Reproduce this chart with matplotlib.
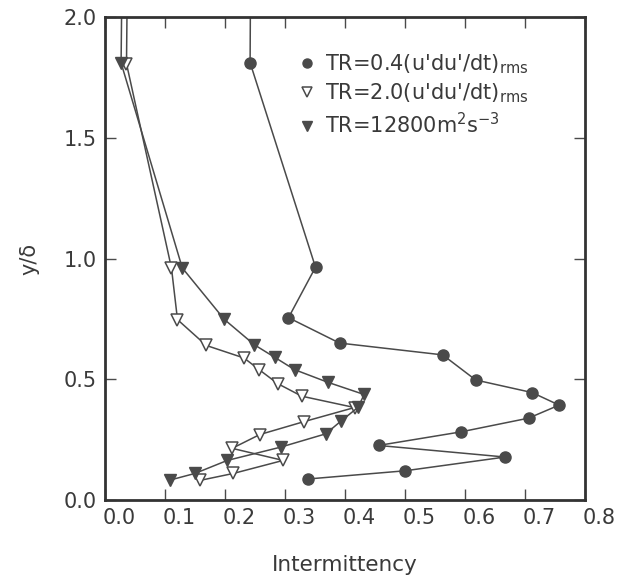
import matplotlib.pyplot as plt
import numpy as np
from matplotlib.lines import Line2D
from matplotlib.transforms import ScaledTranslation

# TR = 0.4 (u'du'/dt)_rms  (filled circles); first point above the frame continues the line upward
y_circ = [2.3, 1.811, 0.964, 0.755, 0.650, 0.601, 0.497, 0.445, 0.393, 0.339, 0.282, 0.226, 0.178, 0.121, 0.087]
x_circ = [0.243, 0.242, 0.351, 0.306, 0.391, 0.563, 0.618, 0.712, 0.757, 0.706, 0.593, 0.456, 0.667, 0.500, 0.338]

# TR = 2.0 (u'du'/dt)_rms  (open triangles)
y_open = [2.3, 1.807, 0.960, 0.747, 0.640, 0.588, 0.540, 0.482, 0.430, 0.383, 0.324, 0.271, 0.214, 0.164, 0.110, 0.081]
x_open = [0.038, 0.036, 0.111, 0.121, 0.169, 0.232, 0.257, 0.288, 0.328, 0.416, 0.331, 0.258, 0.212, 0.297, 0.214, 0.158]

# TR = 12800 m^2 s^-3  (filled triangles)
y_fill = [2.3, 1.810, 0.961, 0.748, 0.643, 0.591, 0.540, 0.488, 0.437, 0.384, 0.326, 0.274, 0.219, 0.164, 0.110, 0.083]
x_fill = [0.029, 0.027, 0.129, 0.199, 0.249, 0.283, 0.316, 0.371, 0.432, 0.422, 0.393, 0.368, 0.293, 0.204, 0.150, 0.109]

labels = ["TR=0.4(u'du'/dt)$_{\\rm rms}$",
          "TR=2.0(u'du'/dt)$_{\\rm rms}$",
          "TR=12800m$^{2}$s$^{-3}$"]

dark = '#4a4a4a'
txt = '#3a3a3a'

fig = plt.figure(figsize=(6.17, 5.79), dpi=100)
ax = fig.add_axes([0.170, 0.1364, 0.778, 0.8342])

ax.plot(x_circ, y_circ, color=dark, lw=1.1, marker='o', ms=8, mfc=dark, mec=dark, markevery=list(range(1, len(x_circ))))
ax.plot(x_open, y_open, color=dark, lw=1.1, marker='v', ms=8.5, mfc='white', mec=dark, mew=1.1, markevery=list(range(1, len(x_open))))
ax.plot(x_fill, y_fill, color=dark, lw=1.1, marker='v', ms=8.5, mfc=dark, mec=dark, markevery=list(range(1, len(x_fill))))

ax.set_xlim(0, 0.8)
ax.set_ylim(0, 2.0)
ax.set_xticks(np.arange(0, 0.81, 0.1))
ax.set_yticks(np.arange(0, 2.01, 0.5))
ax.set_xticklabels(['%.1f' % v for v in np.arange(0, 0.81, 0.1)])
ax.set_yticklabels(['%.1f' % v for v in np.arange(0, 2.01, 0.5)])
ax.tick_params(direction='in', length=8, width=1, top=True, right=True,
               labelsize=15, colors=dark, labelcolor=txt, pad=6)
for lab in ax.get_xticklabels():
    lab.set_transform(lab.get_transform() + ScaledTranslation(0.14, 0, fig.dpi_scale_trans))

for s in ax.spines.values():
    s.set_linewidth(2.0)
    s.set_color('#333333')

ax.set_xlabel('Intermittency', fontsize=15.5, color=txt, labelpad=19)
ax.set_ylabel('y/δ', fontsize=15, color=txt, labelpad=17)

handles = [
    Line2D([], [], ls='none', marker='o', ms=6.5, mfc=dark, mec=dark),
    Line2D([], [], ls='none', marker='v', ms=7, mfc='white', mec=dark, mew=1.1),
    Line2D([], [], ls='none', marker='v', ms=7, mfc=dark, mec=dark),
]
leg = ax.legend(handles, labels, loc='upper left', bbox_to_anchor=(0.39, 0.945),
                frameon=False, fontsize=15, handlelength=0.6, handletextpad=0.6,
                labelspacing=0.3, borderaxespad=0)
for t in leg.get_texts():
    t.set_color(txt)

fig.savefig('out.png', dpi=100)
